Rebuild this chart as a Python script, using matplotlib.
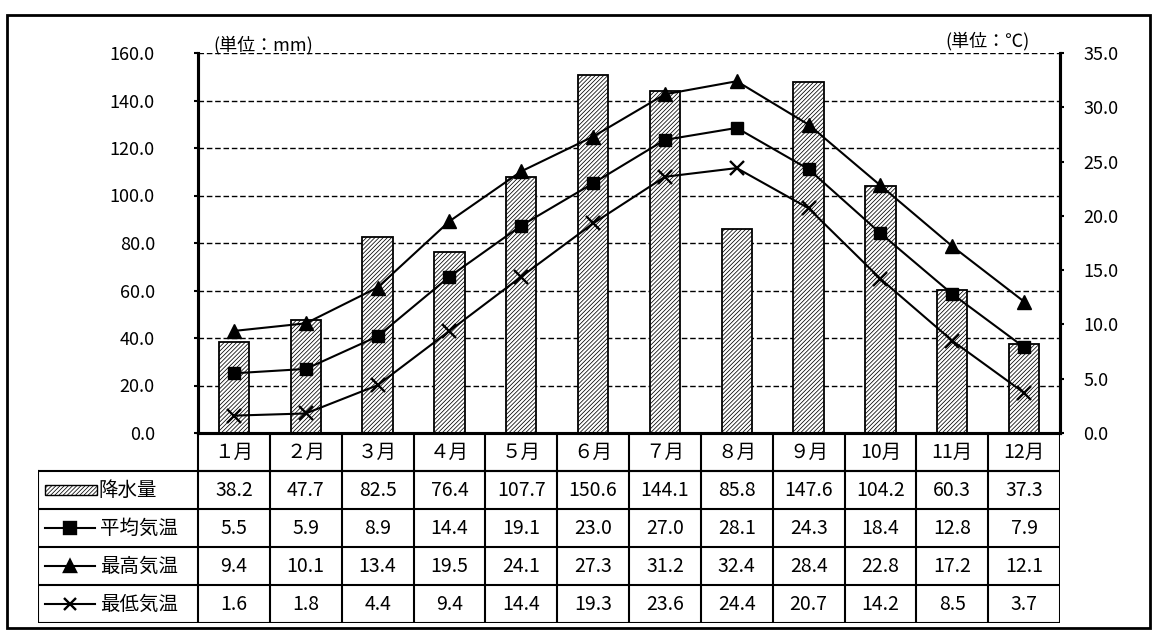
import matplotlib
matplotlib.use("Agg")
from matplotlib import pyplot as plt
from matplotlib.patches import Rectangle
import numpy as np

plt.rcParams['font.family'] = ['Noto Sans CJK JP', 'DejaVu Sans']
plt.rcParams['hatch.linewidth'] = 0.55

# data
months = ["１月", "２月", "３月", "４月", "５月", "６月",
          "７月", "８月", "９月", "10月", "11月", "12月"]
precip = [38.2, 47.7, 82.5, 76.4, 107.7, 150.6, 144.1, 85.8, 147.6, 104.2, 60.3, 37.3]
t_avg = [5.5, 5.9, 8.9, 14.4, 19.1, 23.0, 27.0, 28.1, 24.3, 18.4, 12.8, 7.9]
t_max = [9.4, 10.1, 13.4, 19.5, 24.1, 27.3, 31.2, 32.4, 28.4, 22.8, 17.2, 12.1]
t_min = [1.6, 1.8, 4.4, 9.4, 14.4, 19.3, 23.6, 24.4, 20.7, 14.2, 8.5, 3.7]
row_names = ["降水量", "平均気温", "最高気温", "最低気温"]
left_ticks = [0, 20, 40, 60, 80, 100, 120, 140, 160]
right_ticks = [0, 5, 10, 15, 20, 25, 30, 35]

W, H = 1152, 630
fig = plt.figure(figsize=(W / 100, H / 100), dpi=100)

# pixel layout
pl, pr, pt, pb = 198, 1060, 53, 433
tl, tb = 38, 623
colw = (pr - pl) / 12

ax = fig.add_axes([pl / W, 1 - pb / H, (pr - pl) / W, (pb - pt) / H])
x = np.arange(len(months))
ax.bar(x, precip, width=0.42, color='white', edgecolor='black',
       hatch='////////', lw=1.3, zorder=2)
ax.set_xlim(-0.5, 11.5)
ax.set_ylim(0, 160)
ax.set_yticks(left_ticks)
ax.set_yticklabels([f"{v:.1f}" for v in left_ticks], fontsize=13)
ax.set_xticks([])
ax.set_axisbelow(True)
ax.yaxis.grid(True, ls=(0, (4, 2)), color='black', lw=1)
ax.tick_params(axis='y', direction='out', length=3, width=1.5, pad=28)
ax.spines['top'].set_visible(False)
for s in ['left', 'right', 'bottom']:
    ax.spines[s].set_linewidth(2.2)

ax2 = ax.twinx()
ax2.set_ylim(0, 35)
ax2.set_yticks(right_ticks)
ax2.set_yticklabels([f"{v:.1f}" for v in right_ticks], fontsize=13)
ax2.tick_params(axis='y', direction='out', length=3, width=1.5, pad=14)
ax2.spines['top'].set_visible(False)
for s in ['left', 'right', 'bottom']:
    ax2.spines[s].set_linewidth(2.2)

ax2.plot(x, t_max, '-k', marker='^', ms=10, lw=1.5, zorder=3)
ax2.plot(x, t_avg, '-k', marker='s', ms=9, lw=1.5, zorder=3)
ax2.plot(x, t_min, '-k', marker='x', ms=10, mew=1.7, lw=1.5, zorder=3)

fig.text(213 / W, 1 - 45 / H, "(単位：mm)", fontsize=13, va='center', ha='left')
fig.text(1030 / W, 1 - 41 / H, "(単位：℃)", fontsize=13, va='center', ha='right')

# table below the chart
tax = fig.add_axes([tl / W, 1 - tb / H, (pr - tl) / W, (tb - pb) / H])
x0 = -0.5 - (pl - tl) / colw
tax.set_xlim(x0, 11.5)
tax.set_ylim(5, 0)
tax.axis('off')

def px2x(px):
    return x0 + (px - tl) / colw

lw = 1.5
tax.plot([-0.5, 11.5], [1, 1], 'k-', lw=lw)
for r in range(1, 6):
    tax.plot([x0, 11.5], [r, r], 'k-', lw=lw, solid_capstyle='butt')
for c in range(13):
    tax.plot([c - 0.5, c - 0.5], [0, 5], 'k-', lw=lw if c < 12 else 2.2)
tax.plot([x0, x0], [1, 5], 'k-', lw=lw)

for i, m in enumerate(months):
    tax.text(i, 0.5, m, ha='center', va='center', fontsize=14)

rows = [precip, t_avg, t_max, t_min]
for r, vals in enumerate(rows):
    for i, v in enumerate(vals):
        tax.text(i, r + 1.5, f"{v:.1f}", ha='center', va='center', fontsize=14)

# legend glyphs in first column
tax.add_patch(Rectangle((px2x(45), 1.5 - 0.13), px2x(97) - px2x(45), 0.26,
                        facecolor='white', edgecolor='black', hatch='////////', lw=1))
tax.text(px2x(98), 1.5, row_names[0], ha='left', va='center', fontsize=14)
for r, mk in zip([2, 3, 4], ['s', '^', 'x']):
    y = r + 0.5
    tax.plot([px2x(45), px2x(95)], [y, y], 'k-', lw=1.5)
    tax.plot(px2x(70), y, marker=mk, color='black', ms=9, mew=1.7)
    tax.text(px2x(100), y, row_names[r - 1], ha='left', va='center', fontsize=14)

# outer frame
fig.add_artist(Rectangle((7 / W, 1 - 628 / H), (1150 - 7) / W, (628 - 15) / H,
                         transform=fig.transFigure, fill=False, lw=2, color='black'))

fig.savefig("out.png", dpi=100)
